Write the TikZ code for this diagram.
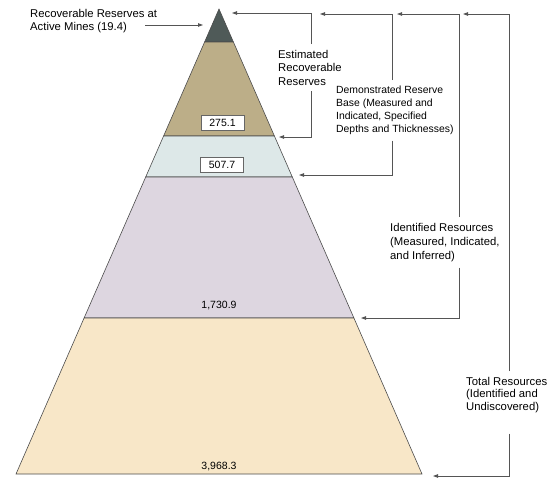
\documentclass[tikz,border=0pt]{standalone}
\usepackage{fontspec}
\setmainfont{Liberation Sans}
\usetikzlibrary{arrows.meta}
\definecolor{minetop}{HTML}{4F5A58}
\definecolor{estres}{HTML}{BCAE88}
\definecolor{demres}{HTML}{DDE8E8}
\definecolor{idres}{HTML}{DDD6E0}
\definecolor{totres}{HTML}{F8E7C8}
\definecolor{linegray}{HTML}{555555}

\begin{document}
\begin{tikzpicture}[x=1pt,y=1pt]
\tikzstyle{every node}+=[inner sep=0pt]
\tikzstyle{layer}=[draw=black!70,line width=0.6pt]
\tikzstyle{bracket}=[draw=linegray,line width=0.8pt]
\tikzstyle{tip}=[-{Triangle[length=5pt,width=3.5pt]}]
\tikzstyle{lbl}=[align=left,anchor=north west,outer ysep=6pt,font=\fontsize{11.3}{13.5}\selectfont]
\tikzstyle{valbox}=[draw=black!60,fill=white,minimum width=43pt,minimum height=15pt,font=\fontsize{10.5}{12}\selectfont]
\useasboundingbox (0,0) rectangle (548,-479);
% pyramid layers
\draw [layer,fill=minetop] (219,-9) -- (233.4,-42) -- (204.6,-42) -- cycle;
\draw [layer,fill=estres] (204.6,-42) -- (233.4,-42) -- (274.4,-136) -- (163.6,-136) -- cycle;
\draw [layer,fill=demres] (163.6,-136) -- (274.4,-136) -- (292.3,-177) -- (145.7,-177) -- cycle;
\draw [layer,fill=idres] (145.7,-177) -- (292.3,-177) -- (353.9,-318) -- (84.1,-318) -- cycle;
\draw [layer,fill=totres] (84.1,-318) -- (353.9,-318) -- (422,-474) -- (16,-474) -- cycle;
% values
\node [valbox] (v1) at (222.5,-122.5) {275.1};
\node [valbox] (v2) at (222,-164.5) {507.7};
\node [font=\fontsize{10.5}{12}\selectfont] (v3) at (219,-306) {1,730.9};
\node [font=\fontsize{10.5}{12}\selectfont] (v4) at (219,-466) {3,968.3};
% labels
\node [lbl,outer ysep=0pt,font=\fontsize{11.3}{13}\selectfont] (mines) at (30,-9) {Recoverable Reserves at\\Active Mines (19.4)};
\node [lbl] (est) at (278,-44) {Estimated\\Recoverable\\Reserves};
\node [lbl,font=\fontsize{10.4}{13}\selectfont] (dem) at (336,-80) {Demonstrated Reserve\\Base (Measured and\\Indicated, Specified\\Depths and Thicknesses)};
\node [lbl,font=\fontsize{11.3}{14}\selectfont] (ident) at (390,-217) {Identified Resources\\(Measured, Indicated,\\and Inferred)};
\node [lbl,font=\fontsize{11.3}{12.5}\selectfont] (tot) at (466,-371) {Total Resources\\(Identified and\\Undiscovered)};
% bracket corners and arrow ends
\coordinate (minesTail) at (145,-25);
\coordinate (minesTip) at (203,-25);
\coordinate (estTop) at (311,-13);
\coordinate (estBot) at (311,-137);
\coordinate (estTipT) at (232,-13);
\coordinate (estTipB) at (279,-137);
\coordinate (demTop) at (392,-14);
\coordinate (demBot) at (392,-175);
\coordinate (demTipT) at (320,-14);
\coordinate (demTipB) at (299,-175);
\coordinate (idTop) at (459,-14);
\coordinate (idBot) at (459,-318);
\coordinate (idTipT) at (397,-14);
\coordinate (idTipB) at (361,-318);
\coordinate (totTop) at (509,-14);
\coordinate (totBot) at (509,-476);
\coordinate (totTipT) at (463,-14);
\coordinate (totTipB) at (433,-476);
% connectors
\draw [bracket,tip] (minesTail) -- (minesTip);
\draw [bracket,tip] (est.north -| estTop) -- (estTop) -- (estTipT);
\draw [bracket,tip] (est.south -| estBot) -- (estBot) -- (estTipB);
\draw [bracket,tip] (dem.north -| demTop) -- (demTop) -- (demTipT);
\draw [bracket,tip] (dem.south -| demBot) -- (demBot) -- (demTipB);
\draw [bracket,tip] (ident.north -| idTop) -- (idTop) -- (idTipT);
\draw [bracket,tip] (ident.south -| idBot) -- (idBot) -- (idTipB);
\draw [bracket,tip] (tot.north -| totTop) -- (totTop) -- (totTipT);
\draw [bracket,tip] (tot.south -| totBot) ++(0,-15) -- (totBot) -- (totTipB);
\end{tikzpicture}
\end{document}
